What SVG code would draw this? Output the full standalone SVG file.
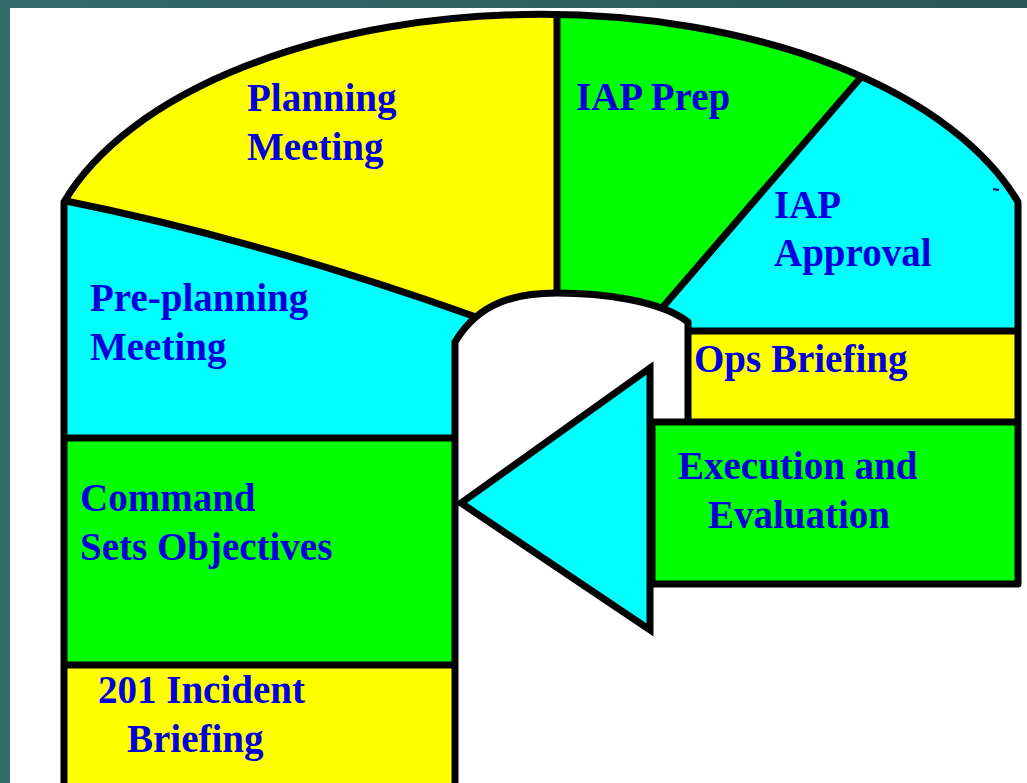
<svg xmlns="http://www.w3.org/2000/svg" width="1027" height="783" viewBox="0 0 1027 783">
  <style>
    .ln { fill: none; stroke: #000; stroke-width: 7; stroke-linejoin: round; }
    .yel { fill: #ffff00; }
    .grn { fill: #00ff00; }
    .cyn { fill: #00ffff; }
    .lbl { font-family: "Liberation Serif", "Times New Roman", serif; font-weight: bold; font-size: 39px; fill: #0000dd; }
  </style>
  <defs>
    <linearGradient id="frame" x1="0" y1="0" x2="1" y2="0">
      <stop offset="0" stop-color="#336a6a"/>
      <stop offset="1" stop-color="#2a5656"/>
    </linearGradient>
    <clipPath id="dome">
      <path d="M64,800 V202 A500,268 0 0 1 1018,202 V800 Z"/>
    </clipPath>
  </defs>

  <!-- frame and page -->
  <rect x="0" y="0" width="1027" height="783" fill="url(#frame)"/>
  <rect x="10" y="8" width="1017" height="775" fill="#fff"/>

  <!-- coloured sectors, cut to the dome outline -->
  <g clip-path="url(#dome)">
    <g id="planning-meeting-fill">
      <path class="yel" d="M60,0 H557 V300 L476,320 Q260,240 66,200 L60,200 Z"/>
    </g>
    <g id="pre-planning-fill">
      <path class="cyn" d="M60,195 L66,200 Q260,240 476,317 L455,342 V438 H60 Z"/>
    </g>
    <g id="iap-prep-fill">
      <path class="grn" d="M557,0 H922 L662,308 L557,300 Z"/>
    </g>
    <g id="iap-approval-fill">
      <path class="cyn" d="M922,0 H1030 V331 H680 L662,308 Z"/>
    </g>
    <rect class="yel" x="688" y="331" width="342" height="91"/>
    <rect class="grn" x="60" y="438" width="395" height="227"/>
    <rect class="yel" x="60" y="665" width="395" height="140"/>
  </g>

  <!-- open centre of the cycle -->
  <path fill="#fff" d="M455,800 V342 C480,300 520,293 557,293 C600,293 660,300 688,322 V422 H1030 V800 Z"/>

  <!-- execution box and return arrow -->
  <g id="execution-fill">
    <rect class="grn" x="652" y="422" width="366" height="162"/>
  </g>

  <!-- outlines and dividers -->
  <g id="connectors">
    <path class="ln" d="M64,790 V202 A500,268 0 0 1 1018,202 V584 H652 V422 H1018"/>
    <path class="ln" d="M455,790 V342 C480,300 520,293 557,293 C600,293 660,300 688,322 V422"/>
    <path class="ln" d="M66,201 Q260,240 476,317"/>
    <path class="ln" d="M557,14 V293"/>
    <path class="ln" d="M862,76 L662,308"/>
    <path class="ln" d="M688,331 H1018"/>
    <path class="ln" d="M64,438 H455"/>
    <path class="ln" d="M64,665 H455"/>
    <path d="M993,189 L999,190" stroke="#1a1a50" stroke-width="2" fill="none"/>
  </g>

  <g id="return-arrow">
    <path class="cyn" d="M461,503 L650,368 L650,630 Z" stroke="#000" stroke-width="7" stroke-linejoin="miter"/>
  </g>

  <!-- labels -->
  <g id="planning-meeting">
    <text class="lbl" x="247" y="111">Planning</text>
    <text class="lbl" x="247" y="160">Meeting</text>
  </g>
  <g id="iap-prep">
    <text class="lbl" x="576" y="110">IAP Prep</text>
  </g>
  <g id="iap-approval">
    <text class="lbl" x="774" y="218">IAP</text>
    <text class="lbl" x="774" y="266">Approval</text>
  </g>
  <g id="pre-planning-meeting">
    <text class="lbl" x="90" y="311">Pre-planning</text>
    <text class="lbl" x="90" y="360">Meeting</text>
  </g>
  <g id="ops-briefing">
    <text class="lbl" x="694" y="372">Ops Briefing</text>
  </g>
  <g id="execution-evaluation">
    <text class="lbl" x="678" y="479">Execution and</text>
    <text class="lbl" x="708" y="528">Evaluation</text>
  </g>
  <g id="command-objectives">
    <text class="lbl" x="80" y="511">Command</text>
    <text class="lbl" x="80" y="560">Sets Objectives</text>
  </g>
  <g id="incident-briefing">
    <text class="lbl" x="98" y="703">201 Incident</text>
    <text class="lbl" x="127" y="752">Briefing</text>
  </g>
</svg>
